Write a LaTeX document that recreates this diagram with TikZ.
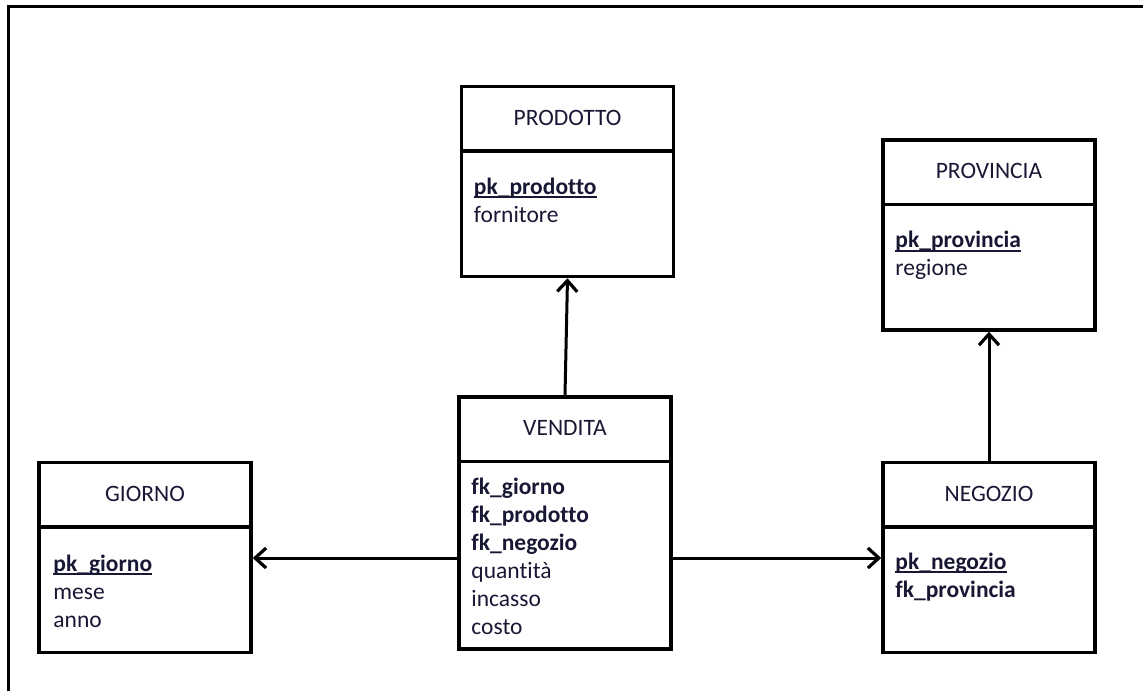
\documentclass[tikz,border=0pt]{standalone}
\usepackage{fontspec}
\setmainfont{Carlito}[Ligatures=NoCommon]
\usetikzlibrary{arrows.meta}

\definecolor{ink}{RGB}{24,24,52}

% primary key: bold, underlined through the underscore
\newcommand\pkey[1]{\setbox0=\hbox{\bfseries #1}\rlap{\rule[-3.8pt]{\wd0}{1.9pt}}\box0}

\tikzset{
  tablebox/.style={draw=black, line width=3.5pt, rectangle, inner sep=0pt,
                   minimum width=212pt, minimum height=#1},
  divline/.style={draw=black, line width=3.5pt},
  headtext/.style={font=\fontsize{23.5}{28}\selectfont, text=ink, inner sep=0pt},
  bodytext/.style={font=\fontsize{23.5}{28}\selectfont, text=ink, align=left,
                   inner sep=0pt, anchor=north west},
  link/.style={draw=black, line width=3pt,
               -{Straight Barb[length=11pt, width=20pt, line width=3.2pt]}},
  frame/.style={draw=black, line width=3pt},
}

\begin{document}
\begin{tikzpicture}[x=1pt, y=-1pt]
  \useasboundingbox (0,0) rectangle (1143,691);

  % outer frame (top and left edges)
  \draw[frame] (8.5,691) -- (8.5,6.5) -- (1143,6.5);

  % tables
  \node[tablebox=190pt] (prodotto)  at (567.5,181.5) {};
  \node[tablebox=190pt] (provincia) at (989,235) {};
  \node[tablebox=252pt] (vendita)   at (565,523) {};
  \node[tablebox=190pt] (giorno)    at (145,557.5) {};
  \node[tablebox=190pt] (negozio)   at (989,557.5) {};

  % header separators
  \foreach \t in {prodotto,provincia,vendita,giorno,negozio}
    \draw[divline] ([yshift=-66pt]\t.north west) -- ([yshift=-66pt]\t.north east);

  % table names
  \node[headtext] (hprodotto)  at ([yshift=-33pt]prodotto.north)  {PRODOTTO};
  \node[headtext] (hprovincia) at ([yshift=-33pt]provincia.north) {PROVINCIA};
  \node[headtext] (hvendita)   at ([yshift=-33pt]vendita.north)   {VENDITA};
  \node[headtext] (hgiorno)    at ([yshift=-33pt]giorno.north)    {GIORNO};
  \node[headtext] (hnegozio)   at ([yshift=-33pt]negozio.north)   {NEGOZIO};

  % attributes
  \node[bodytext] (aprodotto) at ([xshift=14pt, yshift=-93pt]prodotto.north west)
    {\pkey{pk\_prodotto}\\ fornitore};
  \node[bodytext] (aprovincia) at ([xshift=14pt, yshift=-93pt]provincia.north west)
    {\pkey{pk\_provincia}\\ regione};
  \node[bodytext] (avendita) at ([xshift=14pt, yshift=-83pt]vendita.north west)
    {\textbf{fk\_giorno}\\ \textbf{fk\_prodotto}\\ \textbf{fk\_negozio}\\ quantità\\ incasso\\ costo};
  \node[bodytext] (agiorno) at ([xshift=16pt, yshift=-94pt]giorno.north west)
    {\pkey{pk\_giorno}\\ mese\\ anno};
  \node[bodytext] (anegozio) at ([xshift=14pt, yshift=-92pt]negozio.north west)
    {\pkey{pk\_negozio}\\ \textbf{fk\_provincia}};

  % references
  \draw[link] (vendita.north) -- (prodotto.south);
  \draw[link] (negozio.north) -- (provincia.south);
  \draw[link] ([yshift=-35pt]vendita.west) -- ([yshift=-35pt]vendita.west -| giorno.east);
  \draw[link] ([yshift=-35pt]vendita.east) -- ([yshift=-35pt]vendita.east -| negozio.west);
\end{tikzpicture}
\end{document}
